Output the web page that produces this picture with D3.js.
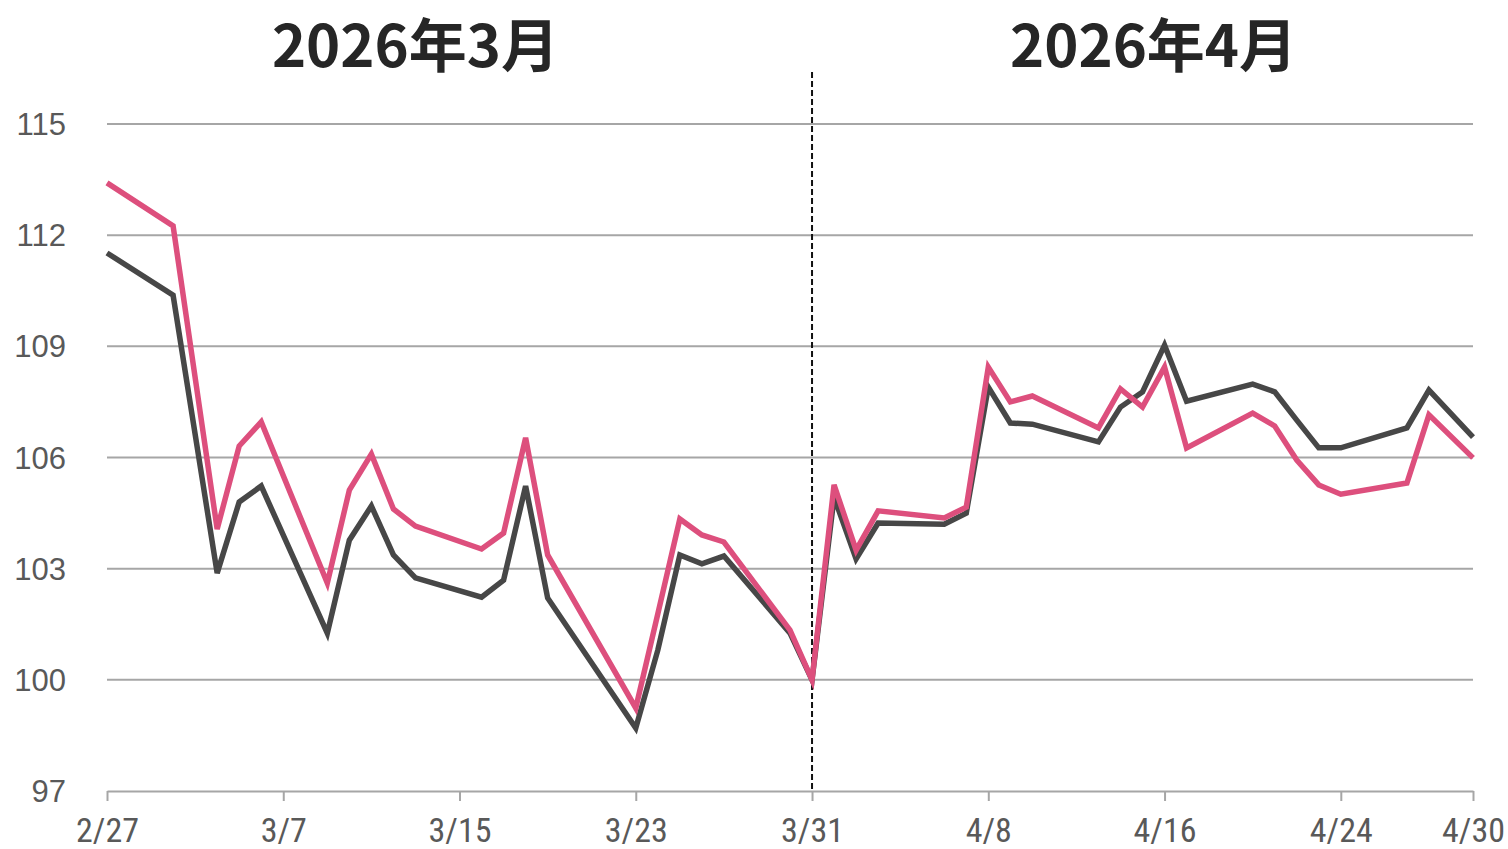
<!DOCTYPE html>
<html>
<head>
<meta charset="utf-8">
<script src="https://cdn.jsdelivr.net/npm/d3@7"></script>
<style>
  body { margin: 0; background: #fff; }
  svg { display: block; }
</style>
</head>
<body>
<svg id="chart" width="1508" height="849"></svg>
<script>
const dates = ['2026-02-27', '2026-03-02', '2026-03-04', '2026-03-05', '2026-03-06',
    '2026-03-09', '2026-03-10', '2026-03-11', '2026-03-12', '2026-03-13',
    '2026-03-16', '2026-03-17', '2026-03-18', '2026-03-19', '2026-03-23',
    '2026-03-24', '2026-03-25', '2026-03-26', '2026-03-27', '2026-03-30',
    '2026-03-31', '2026-04-01', '2026-04-02', '2026-04-03', '2026-04-06',
    '2026-04-07', '2026-04-08', '2026-04-09', '2026-04-10', '2026-04-13',
    '2026-04-14', '2026-04-15', '2026-04-16', '2026-04-17', '2026-04-20',
    '2026-04-21', '2026-04-22', '2026-04-23', '2026-04-24', '2026-04-27',
    '2026-04-28', '2026-04-30'];

const pinkValues = [113.41, 112.25, 104.07, 106.31, 106.96,
    102.61, 105.12, 106.09, 104.61, 104.15,
    103.53, 103.96, 106.53, 103.37, 99.24,
    101.78, 104.34, 103.91, 103.72, 101.34,
    100.0, 105.26, 103.50, 104.56, 104.37,
    104.66, 108.44, 107.50, 107.66, 106.80,
    107.85, 107.36, 108.44, 106.26, 107.20,
    106.85, 105.93, 105.26, 105.01, 105.31,
    107.15, 105.99];

const darkValues = [111.52, 110.38, 102.88, 104.80, 105.23,
    101.26, 103.77, 104.69, 103.37, 102.75,
    102.23, 102.69, 105.23, 102.21, 98.70,
    100.80, 103.37, 103.13, 103.34, 101.26,
    100.0, 104.93, 103.26, 104.23, 104.20,
    104.50, 107.90, 106.93, 106.90, 106.42,
    107.36, 107.77, 109.03, 107.52, 107.98,
    107.77, 107.01, 106.26, 106.26, 106.80,
    107.82, 106.55];

const xTicks = ['2026-02-27', '2026-03-07', '2026-03-15', '2026-03-23', '2026-03-31',
    '2026-04-08', '2026-04-16', '2026-04-24', '2026-04-30'];
const yTicks = [97, 100, 103, 106, 109, 112, 115];
const monthTitles = [
    {label: '2026年3月', date: '2026-03-13T00:00:00Z'},
    {label: '2026年4月', date: '2026-04-15T12:00:00Z'}
];
const dividerDate = '2026-03-31';

const parse = d3.utcParse('%Y-%m-%d');
const fmt = d3.utcFormat('%-m/%-d');

const svg = d3.select('#chart');
const plotLeft = 107, plotRight = 1473, plotTop = 124, plotBottom = 791;

const x = d3.scaleUtc()
    .domain([parse(dates[0]), parse(dates[dates.length - 1])])
    .range([plotLeft, plotRight]);

const y = d3.scaleLinear()
    .domain([97, 115])
    .range([plotBottom, plotTop]);

// grid lines
svg.append('g')
    .selectAll('line')
    .data(yTicks.filter(d => d > 97))
    .join('line')
    .attr('x1', plotLeft)
    .attr('x2', plotRight)
    .attr('y1', d => y(d))
    .attr('y2', d => y(d))
    .attr('stroke', '#a6a6a6')
    .attr('stroke-width', 2);

// y labels
svg.append('g')
    .selectAll('text')
    .data(yTicks)
    .join('text')
    .attr('x', 66)
    .attr('y', d => y(d))
    .attr('dy', '0.36em')
    .attr('text-anchor', 'end')
    .attr('fill', '#595959')
    .style('font-family', '"Liberation Sans", sans-serif')
    .style('font-size', '31px')
    .text(d => d);

// x axis
const xAxis = d3.axisBottom(x)
    .tickValues(xTicks.map(parse))
    .tickFormat(fmt)
    .tickSize(10)
    .tickSizeOuter(0)
    .tickPadding(17);

const gx = svg.append('g')
    .attr('transform', `translate(0,${plotBottom})`)
    .call(xAxis);

gx.select('.domain').attr('stroke', '#a6a6a6').attr('stroke-width', 2);
gx.selectAll('.tick line').attr('stroke', '#a6a6a6').attr('stroke-width', 2);
gx.selectAll('.tick text')
    .attr('fill', '#595959')
    .style('font-family', '"Liberation Sans Narrow", "Roboto Condensed", "DejaVu Sans Condensed", sans-serif')
    .style('font-size', '34px');

// divider
svg.append('line')
    .attr('x1', x(parse(dividerDate)))
    .attr('x2', x(parse(dividerDate)))
    .attr('y1', 72)
    .attr('y2', plotBottom)
    .attr('stroke', '#111')
    .attr('stroke-width', 2)
    .attr('stroke-dasharray', '6,3');

// series
const line = d3.line()
    .x((d, i) => x(parse(dates[i])))
    .y(d => y(d));

svg.append('path')
    .datum(darkValues)
    .attr('d', line)
    .attr('fill', 'none')
    .attr('stroke', '#474747')
    .attr('stroke-width', 5.5)
    .attr('stroke-linejoin', 'miter');

svg.append('path')
    .datum(pinkValues)
    .attr('d', line)
    .attr('fill', 'none')
    .attr('stroke', '#dd4f7d')
    .attr('stroke-width', 5.5)
    .attr('stroke-linejoin', 'miter');

// month titles
svg.append('g')
    .selectAll('text')
    .data(monthTitles)
    .join('text')
    .attr('x', d => x(new Date(d.date)))
    .attr('y', 67)
    .attr('text-anchor', 'middle')
    .attr('fill', '#262626')
    .style('font-family', '"Noto Sans CJK JP", sans-serif')
    .style('font-weight', 'bold')
    .style('font-size', '58px')
    .text(d => d.label);
</script>
</body>
</html>
